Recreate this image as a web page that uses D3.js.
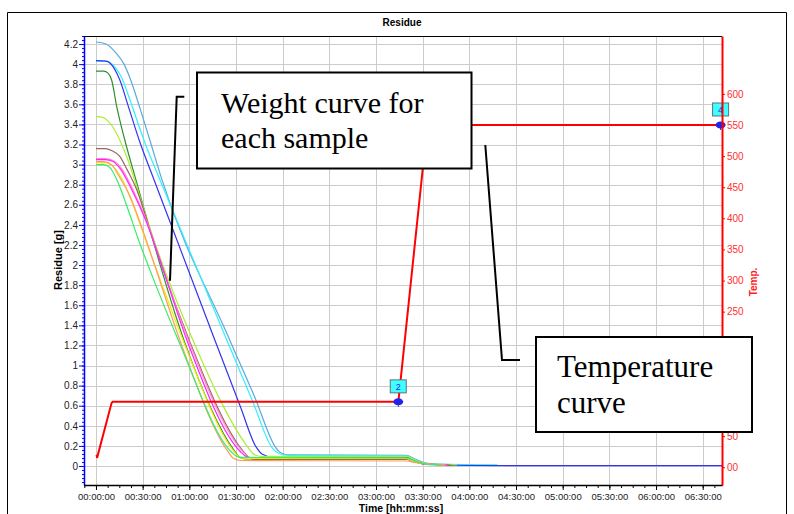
<!DOCTYPE html>
<html><head><meta charset="utf-8">
<script src="https://cdn.jsdelivr.net/npm/d3@7"></script>
<style>body{margin:0;background:#fff}svg{display:block}</style>
</head><body><svg id="c" width="794" height="514"></svg>
<script>
// ---------------- DATA ----------------
const timeTicks = [0,30,60,90,120,150,180,210,240,270,300,330,360,390]; // minutes
const timeTickLabels = ["00:00:00","00:30:00","01:00:00","01:30:00","02:00:00","02:30:00","03:00:00","03:30:00","04:00:00","04:30:00","05:00:00","05:30:00","06:00:00","06:30:00"];
const residueTicks = [0,0.2,0.4,0.6,0.8,1,1.2,1.4,1.6,1.8,2,2.2,2.4,2.6,2.8,3,3.2,3.4,3.6,3.8,4,4.2];
const residueTickLabels = ["0","0.2","0.4","0.6","0.8","1","1.2","1.4","1.6","1.8","2","2.2","2.4","2.6","2.8","3","3.2","3.4","3.6","3.8","4","4.2"];
const tempTicks = [0,50,100,150,200,250,300,350,400,450,500,550,600];
const tempTickLabels = ["00","50","100","150","200","250","300","350","400","450","500","550","600"];

// weight curves: [minutes, grams]
const lightBlue = [[0,4.22],[6.4,4.2],[12.9,4.11],[18,4.0],[21.9,3.86],[28.3,3.56],[34.7,3.24],[42.4,2.85],[86.1,1.25],[102.2,0.68],[115.7,0.18],[118.9,0.13],[124.7,0.11],[199.5,0.105],[205,0.07],[212,0.03],[220,0.02],[243,0.015]];
const cyan = [[0,4.03],[6.4,4.03],[12.2,3.97],[16.7,3.86],[21.9,3.64],[32.1,3.19],[41.1,2.85],[84.2,1.25],[100.3,0.66],[113.8,0.17],[117.6,0.125],[124.7,0.105],[199.5,0.1],[205,0.06],[212,0.025],[230,0.015],[258,0.012]];
const blue = [[0,4.035],[6.4,4.03],[11.6,3.96],[15.4,3.84],[20.6,3.59],[28.3,3.22],[37.3,2.85],[76.5,1.25],[92.6,0.6],[102.9,0.19],[106.7,0.12],[113.2,0.09],[199.5,0.085],[205,0.05],[212,0.015],[240,0.005],[402.4,0.003]];
const darkGreen = [[0,3.93],[5,3.93],[7.7,3.91],[10.1,3.84],[13.3,3.58],[18.6,3.24],[26.2,2.82],[34.7,2.35],[56.6,1.25],[89,0.15],[92,0.09],[96,0.07],[199.5,0.07],[205,0.04],[212,0.02],[230,0.012]];
const yellowGreen = [[0,3.48],[4.5,3.47],[8,3.43],[12.2,3.34],[19.7,3.08],[28.3,2.68],[36.6,2.28],[62.4,1.25],[97,0.2],[100.5,0.13],[103,0.105],[107,0.095],[199.5,0.095],[205,0.06],[212,0.025],[232,0.012]];
const brown = [[0,3.16],[6,3.16],[10,3.14],[15.4,3.08],[20,2.95],[26.2,2.75],[34.7,2.35],[41,2.05],[60,1.25],[95,0.14],[98,0.09],[102,0.065],[199.5,0.065],[205,0.04],[212,0.02],[228,0.01]];
const pink = [[0,3.06],[6,3.06],[11,3.04],[16.5,2.96],[23.5,2.76],[33,2.42],[40.5,2.08],[59.5,1.25],[94.5,0.14],[97.5,0.095],[101,0.075],[199.5,0.075],[205,0.04],[212,0.02],[226,0.01]];
const magenta = [[0,3.05],[6,3.05],[11,3.03],[16,2.95],[23,2.75],[32.6,2.42],[40,2.1],[58.5,1.25],[93,0.14],[96,0.1],[100,0.08],[199.5,0.08],[205,0.045],[212,0.02],[226,0.01]];
const yellow = [[0,3.02],[6,3.02],[11,2.98],[17,2.85],[25,2.55],[33,2.2],[39,1.95],[56,1.25],[89,0.14],[92,0.09],[96,0.075],[199.5,0.075],[205,0.04],[212,0.02],[224,0.01]];
const orange = [[0,3.03],[5,3.03],[10,3.0],[15,2.88],[22,2.68],[30,2.35],[36.6,2.05],[54,1.25],[85,0.14],[88,0.08],[93,0.055],[199.5,0.05],[205,0.035],[212,0.02],[225,0.01]];
const green = [[0,3.0],[5,3.0],[9,2.97],[14,2.83],[20,2.58],[28.3,2.21],[34.7,1.95],[53,1.25],[87,0.14],[90,0.1],[94,0.085],[199.5,0.08],[205,0.05],[212,0.02],[222,0.01]];

const weightSeries = [lightBlue, cyan, blue, darkGreen, yellowGreen, brown, pink, magenta, yellow, orange, green];
const weightColors = ["#5aa9dc","#2ef0ff","#3333f0","#2f8f2f","#aaee33","#9a6464","#ff88cc","#ff22ff","#eeee00","#ff9a66","#33ee66"];

// temperature curve: [minutes, °C]
const temperature = [[0.4,20],[0.7,15],[10,103],[10.7,105],[193.8,105],[194.3,104],[213,550],[402.4,550]];
const markers = [{t:194.3, T:105, label:"2"},{t:401.5, T:550, label:"4"}];

// ---------------- CHART ----------------
const svg = d3.select("#c");
const L = 84, R = 722, T = 36, B = 485;
const x = d3.scaleLinear().domain([-7.7, 402.4]).range([L, R]);
const yL = d3.scaleLinear().domain([-0.189, 4.28]).range([B, T]);
const yR = d3.scaleLinear().domain([-28.6, 693]).range([B, T]);

// outer frame
svg.append("path").attr("d","M7.5,514 L7.5,12.5 L786.5,12.5 L786.5,514").attr("fill","none").attr("stroke","#000").attr("stroke-width",1);

// title
svg.append("text").attr("x",402).attr("y",25.5).attr("text-anchor","middle")
  .attr("font-family","Liberation Sans, Arial, sans-serif").attr("font-size",10).attr("font-weight","bold").text("Residue");

// grid
const grid = svg.append("g").attr("stroke","#cccccc").attr("stroke-width",1);
grid.selectAll("line.h").data(residueTicks).join("line")
  .attr("x1",L).attr("x2",R).attr("y1",d=>Math.round(yL(d))+0.5).attr("y2",d=>Math.round(yL(d))+0.5);
grid.selectAll("line.v").data(timeTicks).join("line")
  .attr("y1",T).attr("y2",B).attr("x1",d=>Math.round(x(d))+0.5).attr("x2",d=>Math.round(x(d))+0.5);

// clip
svg.append("clipPath").attr("id","plot").append("rect").attr("x",L).attr("y",T).attr("width",R-L).attr("height",B-T);
const plot = svg.append("g").attr("clip-path","url(#plot)");

const wLine = d3.line().x(d=>x(d[0])).y(d=>yL(d[1])).curve(d3.curveMonotoneX);
plot.selectAll("path.w").data(weightSeries).join("path")
  .attr("d",wLine).attr("fill","none").attr("stroke",(d,i)=>weightColors[i]).attr("stroke-width",1.2);

const tLine = d3.line().x(d=>x(d[0])).y(d=>yR(d[1]));
plot.append("path").datum(temperature).attr("d",tLine).attr("fill","none").attr("stroke","#ff0000").attr("stroke-width",2);

// markers
markers.forEach(m=>{
  const mx = x(m.t), my = yR(m.T);
  svg.append("ellipse").attr("cx",mx).attr("cy",my).attr("rx",5).attr("ry",3.5).attr("fill","#2222ee");
  svg.append("line").attr("x1",mx).attr("x2",mx).attr("y1",my).attr("y2",my+5).attr("stroke","#2222ee").attr("stroke-width",1);
  svg.append("rect").attr("x",mx-8).attr("y",my-22).attr("width",16).attr("height",13)
    .attr("fill","#40ffff").attr("stroke","#607080").attr("stroke-width",1);
  svg.append("text").attr("x",mx).attr("y",my-12).attr("text-anchor","middle")
    .attr("font-family","Liberation Sans, Arial, sans-serif").attr("font-size",9).attr("fill","#2222ee").text(m.label);
});

// axes
const fontF = "Liberation Sans, Arial, sans-serif";
svg.append("line").attr("x1",L).attr("x2",R).attr("y1",T+0.5).attr("y2",T+0.5).attr("stroke","#000");

// left axis
const minorRes = d3.range(-0.16, 4.281, 0.04).map(v=>+v.toFixed(2));
const gLm = svg.append("g").attr("transform",`translate(${L},0)`)
  .call(d3.axisLeft(yL).tickValues(minorRes).tickSize(2).tickFormat("").tickSizeOuter(0));
const gL = svg.append("g").attr("transform",`translate(${L},0)`)
  .call(d3.axisLeft(yL).tickValues(residueTicks).tickSize(5).tickPadding(1).tickSizeOuter(0).tickFormat((d,i)=>residueTickLabels[i]));
[gLm,gL].forEach(g=>{g.selectAll("path,line").attr("stroke","#0000ff");});
gL.select("path.domain").attr("stroke-width",1.5);
gL.selectAll("text").attr("font-family",fontF).attr("font-size",10).attr("fill","#222");

// bottom axis
const minorT = d3.range(-7.5, 402.4, 7.5);
const gBm = svg.append("g").attr("transform",`translate(0,${B})`)
  .call(d3.axisBottom(x).tickValues(minorT).tickSize(3).tickFormat("").tickSizeOuter(0));
const gB = svg.append("g").attr("transform",`translate(0,${B})`)
  .call(d3.axisBottom(x).tickValues(timeTicks).tickSize(5).tickPadding(3).tickSizeOuter(0).tickFormat((d,i)=>timeTickLabels[i]));
[gBm,gB].forEach(g=>g.selectAll("path,line").attr("stroke","#000"));
gB.select("path.domain").attr("stroke-width",1.5);
gB.selectAll("text").attr("font-family",fontF).attr("font-size",9.5).attr("fill","#222");

// right axis
const gR = svg.append("g").attr("transform",`translate(${R},0)`)
  .call(d3.axisRight(yR).tickValues(tempTicks).tickSize(3).tickPadding(2).tickSizeOuter(0).tickFormat((d,i)=>tempTickLabels[i]));
gR.selectAll("path,line").attr("stroke","#ff0000");
gR.select("path.domain").attr("stroke-width",2);
gR.selectAll("text").attr("font-family",fontF).attr("font-size",10).attr("fill","#ff3030");

// axis titles
svg.append("text").attr("transform","translate(61.5,260) rotate(-90)").attr("text-anchor","middle")
  .attr("font-family",fontF).attr("font-size",11).attr("font-weight","bold").text("Residue [g]");
svg.append("text").attr("transform","translate(757,282) rotate(-90)").attr("text-anchor","middle")
  .attr("font-family",fontF).attr("font-size",10).attr("font-weight","bold").attr("fill","#ff2020").text("Temp.");
svg.append("text").attr("x",401).attr("y",511.5).attr("text-anchor","middle")
  .attr("font-family",fontF).attr("font-size",10.5).attr("font-weight","bold").text("Time [hh:mm:ss]");

// annotations
const serif = "Liberation Serif, Times New Roman, serif";
svg.append("path").attr("d","M184.3,96.7 L176.7,96.7 L170,280.7").attr("fill","none").attr("stroke","#000").attr("stroke-width",2);
svg.append("path").attr("d","M485.3,145 L502,360 L520,360").attr("fill","none").attr("stroke","#000").attr("stroke-width",2);

svg.append("rect").attr("x",197).attr("y",72.5).attr("width",274.5).attr("height",96).attr("fill","#fff").attr("stroke","#000").attr("stroke-width",2);
svg.append("text").attr("x",221).attr("y",113).attr("font-family",serif).attr("font-size",30).text("Weight curve for");
svg.append("text").attr("x",221).attr("y",148).attr("font-family",serif).attr("font-size",30).text("each sample");

svg.append("rect").attr("x",536).attr("y",337).attr("width",216).attr("height",95).attr("fill","#fff").attr("stroke","#000").attr("stroke-width",2);
svg.append("text").attr("x",557).attr("y",377).attr("font-family",serif).attr("font-size",31).text("Temperature");
svg.append("text").attr("x",557).attr("y",413).attr("font-family",serif).attr("font-size",31).text("curve");
</script></body></html>
